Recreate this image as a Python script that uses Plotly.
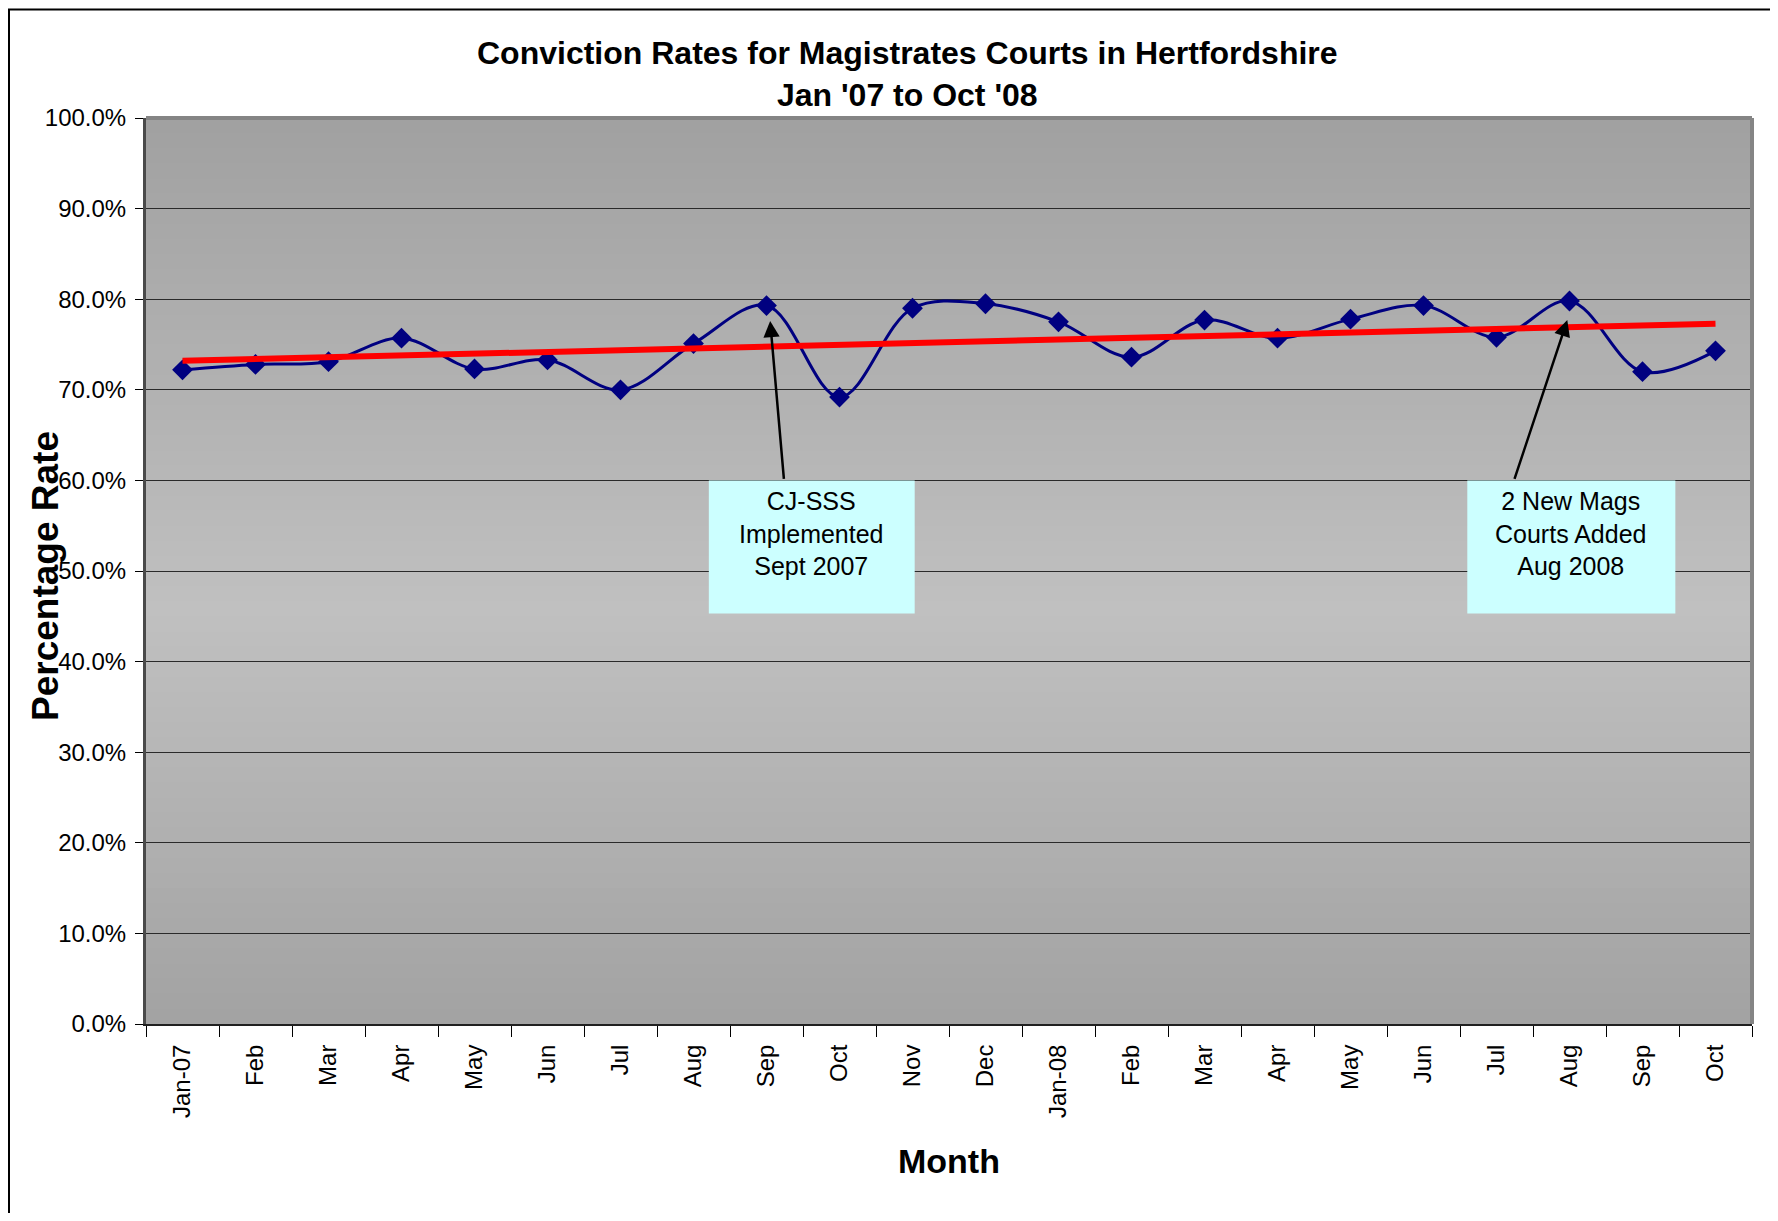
import plotly.graph_objects as go

months = ["Jan-07", "Feb", "Mar", "Apr", "May", "Jun", "Jul", "Aug", "Sep", "Oct", "Nov", "Dec",
          "Jan-08", "Feb", "Mar", "Apr", "May", "Jun", "Jul", "Aug", "Sep", "Oct"]
conviction_rate = [72.2, 72.8, 73.1, 75.7, 72.3, 73.3, 70.0, 75.1, 79.3, 69.2, 79.0, 79.5,
                   77.5, 73.6, 77.7, 75.7, 77.8, 79.3, 75.8, 79.8, 72.0, 74.3]
trend_x_idx = [0, 21]
trend_values = [73.2, 77.3]
y_ticks = [0, 10, 20, 30, 40, 50, 60, 70, 80, 90, 100]

# page has an 8px body margin
OFF = 8
W, H = 1762, 1205
PL, PR, PT, PB = 146, 1752, 118, 1024   # plot area in screenshot pixels
ML, MR, MT, MB = PL - OFF, OFF + W - PR, PT - OFF, OFF + H - PB
FONT = "Arial, 'Liberation Sans', sans-serif"


def px(sx):
    return (sx - PL) / (PR - PL)


def py(sy):
    return (PB - sy) / (PB - PT)


x_idx = list(range(len(months)))

fig = go.Figure()

fig.add_trace(go.Scatter(
    x=x_idx, y=conviction_rate, mode="lines+markers",
    line=dict(color="#000080", width=3, shape="spline", smoothing=1.0),
    marker=dict(symbol="diamond", size=16, color="#000080"),
    showlegend=False, hoverinfo="y"))

fig.add_trace(go.Scatter(
    x=[x_idx[i] for i in trend_x_idx], y=trend_values, mode="lines",
    line=dict(color="#FF0000", width=6),
    showlegend=False, hoverinfo="skip"))

shapes = []


def lerp(a, b, t):
    return a + (b - a) * t


N = 60
for k in range(N):
    y0 = k / N
    y1 = (k + 1) / N
    tmid = 1 - (y0 + y1) / 2  # 0 at top, 1 at bottom
    if tmid < 0.55:
        v = lerp(0xA1, 0xC0, tmid / 0.55)
    else:
        v = lerp(0xC0, 0xA2, (tmid - 0.55) / 0.45)
    v = int(round(v))
    col = f"rgb({v},{v},{v})"
    shapes.append(dict(type="rect", xref="x domain", yref="y domain",
                       x0=0, x1=1, y0=y0, y1=y1 + 0.001,
                       fillcolor=col, line=dict(width=0), layer="below"))

# frame top and right (grey)
shapes.append(dict(type="line", xref="x domain", yref="y domain", x0=0, x1=1.0, y0=1, y1=1,
                   line=dict(color="#858585", width=4), layer="above"))
shapes.append(dict(type="line", xref="x domain", yref="y domain", x0=1, x1=1, y0=0, y1=1,
                   line=dict(color="#858585", width=4), layer="above"))

# annotation boxes
shapes.append(dict(type="rect", xref="x", yref="y", x0=7.21, x1=10.03, y0=45.3, y1=60.0,
                   fillcolor="#CCFFFF", line=dict(width=0), layer="above"))
shapes.append(dict(type="rect", xref="x", yref="y", x0=17.6, x1=20.45, y0=45.3, y1=60.0,
                   fillcolor="#CCFFFF", line=dict(width=0), layer="above"))

# outer chart border
shapes.append(dict(type="rect", xref="paper", yref="paper",
                   x0=px(9), x1=1.2, y0=-0.4, y1=py(9.5),
                   line=dict(color="#000000", width=2), fillcolor="rgba(0,0,0,0)", layer="below"))

annotations = [
    dict(text="<b>Conviction Rates for Magistrates Courts in Hertfordshire</b><br><b>Jan '07 to Oct '08</b>",
         xref="paper", yref="paper", x=px(907), y=py(74),
         xanchor="center", yanchor="middle", showarrow=False,
         font=dict(family=FONT, size=32, color="#000000")),
    dict(text="<b>Month</b>", xref="paper", yref="paper", x=px(949), y=py(1161),
         xanchor="center", yanchor="middle", showarrow=False,
         font=dict(family=FONT, size=34, color="#000000")),
    dict(text="<b>Percentage Rate</b>", xref="paper", yref="paper",
         x=px(45), y=py(576),
         xanchor="center", yanchor="middle", textangle=-90, showarrow=False,
         font=dict(family=FONT, size=37, color="#000000")),
    dict(text="CJ-SSS<br>Implemented<br>Sept 2007", xref="x", yref="y", x=8.62, y=54.1,
         xanchor="center", yanchor="middle", showarrow=False,
         font=dict(family=FONT, size=25, color="#000000")),
    dict(text="2 New Mags<br>Courts Added<br>Aug 2008", xref="x", yref="y", x=19.02, y=54.1,
         xanchor="center", yanchor="middle", showarrow=False,
         font=dict(family=FONT, size=25, color="#000000")),
    dict(text="", xref="x", yref="y", x=8.05, y=77.6, axref="x", ayref="y", ax=8.24, ay=60.0,
         showarrow=True, arrowhead=2, arrowsize=1.3, arrowwidth=2.5, arrowcolor="#000000"),
    dict(text="", xref="x", yref="y", x=18.97, y=77.7, axref="x", ayref="y", ax=18.24, ay=60.0,
         showarrow=True, arrowhead=2, arrowsize=1.3, arrowwidth=2.5, arrowcolor="#000000"),
]

fig.update_layout(
    width=W, height=H,
    margin=dict(l=ML, r=MR, t=MT, b=MB, pad=0),
    paper_bgcolor="#FFFFFF", plot_bgcolor="#B0B0B0",
    font=dict(family=FONT, color="#000000"),
    shapes=shapes, annotations=annotations, showlegend=False,
)

fig.update_xaxes(
    range=[-0.5, 21.5], tickmode="array", tickvals=x_idx, ticktext=months,
    tickangle=-90, ticks="", tickfont=dict(family=FONT, size=24, color="#000000"),
    ticklabelstandoff=9,
    showgrid=False, zeroline=False,
    showline=True, linecolor="#202020", linewidth=2,
    minor=dict(tickmode="array", tickvals=[i - 0.5 for i in range(len(months) + 1)],
               ticks="outside", ticklen=11, tickwidth=1, tickcolor="#000000", showgrid=False),
)
fig.update_yaxes(
    range=[0, 100], tickmode="array", tickvals=y_ticks,
    ticktext=[f"{v:.1f}%" for v in y_ticks],
    ticks="outside", ticklen=8, tickwidth=1, tickcolor="#000000",
    tickfont=dict(family=FONT, size=24, color="#000000"),
    ticklabelstandoff=4,
    showgrid=True, gridcolor="#2a2a2a", gridwidth=1, zeroline=False,
    showline=True, linecolor="#4a4a4a", linewidth=3,
)

fig.write_html("out.html")
